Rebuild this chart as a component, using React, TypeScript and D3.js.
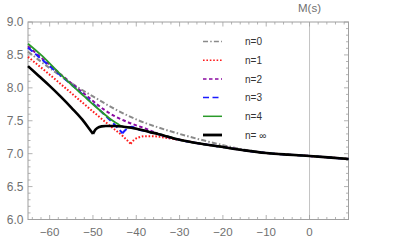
import { useEffect, useRef } from 'react'
import * as d3 from 'd3'

// tick labels
const xTicks = [-60, -50, -40, -30, -20, -10, 0]
const yTicks = [6.0, 6.5, 7.0, 7.5, 8.0, 8.5, 9.0]

// n = infinity (black, drawn on top)
const infX = [-65, -62.5, -60, -57.5, -55, -52.5, -51, -50, -49.5, -49, -48, -47, -45, -43, -40, -37, -35, -30, -25, -20, -15, -10, -5, 0, 5, 9]
const infY = [8.33, 8.18, 8.03, 7.87, 7.70, 7.52, 7.39, 7.30, 7.36, 7.39, 7.415, 7.42, 7.42, 7.41, 7.38, 7.33, 7.30, 7.21, 7.15, 7.10, 7.05, 7.01, 6.985, 6.965, 6.94, 6.92]

// the finite n curves, up to where they fall onto the black one
const n0X = [-65, -60, -55, -50, -45, -40, -35, -30, -25, -20, -15]
const n0Y = [8.55, 8.30, 8.07, 7.87, 7.68, 7.52, 7.40, 7.30, 7.21, 7.13, 7.06]

const n1X = [-65, -60, -55, -50, -46, -43, -41.3, -40.5, -39.5, -38, -36, -34, -32, -30]
const n1Y = [8.47, 8.20, 7.92, 7.64, 7.42, 7.26, 7.15, 7.21, 7.245, 7.265, 7.265, 7.25, 7.23, 7.21]

const n2X = [-65, -60, -55, -52, -50, -47, -45, -42, -40, -38, -36]
const n2Y = [8.63, 8.35, 8.07, 7.91, 7.80, 7.65, 7.57, 7.48, 7.43, 7.385, 7.33]

const n3X = [-65, -60, -55, -50, -47, -45, -44, -43.2, -42.5, -42, -41]
const n3Y = [8.61, 8.33, 8.05, 7.76, 7.57, 7.44, 7.37, 7.31, 7.36, 7.385, 7.41]

const n4X = [-65, -62, -58, -55, -52, -50, -47, -45, -44, -43.5]
const n4Y = [8.67, 8.50, 8.24, 8.05, 7.87, 7.75, 7.58, 7.48, 7.44, 7.42]

const labels = ['n=0', 'n=1', 'n=2', 'n=3', 'n=4', 'n= \u221e']

export default function App() {
  const canvas = useRef<HTMLDivElement>(null)

  useEffect(() => {
    showCanvas()
  }, [])

  const showCanvas = () => {
    const width = 395
    const height = 247
    const margin = { top: 22, bottom: 27.5, left: 28, right: 46.5 }
    const font = '"Liberation Sans", Arial, sans-serif'
    const axisGrey = '#a0a0a0'
    const labelGrey = '#707070'

    d3.select(canvas.current).selectAll('*').remove()
    const svg = d3.select(canvas.current)
      .append('svg')
      .attr('width', width)
      .attr('height', height)
      .style('display', 'block')
      .style('background', 'white')

    const x = d3.scaleLinear().domain([-65, 9]).range([margin.left, width - margin.right])
    const y = d3.scaleLinear().domain([6, 9]).range([height - margin.bottom, margin.top])
    const [x0, x1] = x.range()
    const [y0, y1] = y.range()

    // zero line
    svg.append('line')
      .attr('x1', x(0)).attr('x2', x(0))
      .attr('y1', y1).attr('y2', y0)
      .attr('stroke', '#c4c4c4').attr('stroke-width', 1)

    // frame
    svg.append('rect')
      .attr('x', x0).attr('y', y1)
      .attr('width', x1 - x0).attr('height', y0 - y1)
      .attr('fill', 'none').attr('stroke', axisGrey).attr('stroke-width', 1)

    // ticks on all four sides, pointing inward
    const ticks = svg.append('g').attr('stroke', axisGrey).attr('stroke-width', 0.8)
    d3.range(-64, 9.01, 2).forEach(v => {
      const major = Math.abs(v % 10) < 1e-6
      const len = major ? 4.5 : 2.5
      ticks.append('line').attr('x1', x(v)).attr('x2', x(v)).attr('y1', y0).attr('y2', y0 - len)
      ticks.append('line').attr('x1', x(v)).attr('x2', x(v)).attr('y1', y1).attr('y2', y1 + len)
    })
    d3.range(60, 90.5, 1).forEach(k => {
      const v = k / 10
      const major = k % 5 === 0
      const len = major ? 4.5 : 2.5
      ticks.append('line').attr('x1', x0).attr('x2', x0 + len).attr('y1', y(v)).attr('y2', y(v))
      ticks.append('line').attr('x1', x1).attr('x2', x1 - len).attr('y1', y(v)).attr('y2', y(v))
    })

    // tick labels
    svg.append('g').selectAll('text')
      .data(xTicks)
      .join('text')
      .attr('x', d => x(d))
      .attr('y', y0 + 16)
      .attr('text-anchor', 'middle')
      .attr('font-family', font).attr('font-size', 11.5).attr('fill', labelGrey)
      .text(d => d < 0 ? '\u2212' + Math.abs(d) : String(d))

    svg.append('g').selectAll('text')
      .data(yTicks)
      .join('text')
      .attr('x', x0 - 4.5)
      .attr('y', d => y(d) + 4)
      .attr('text-anchor', 'end')
      .attr('font-family', font).attr('font-size', 12).attr('fill', labelGrey)
      .text(d => d.toFixed(1))

    svg.append('text')
      .attr('x', x(0)).attr('y', 12)
      .attr('text-anchor', 'middle')
      .attr('font-family', font).attr('font-size', 11.5).attr('fill', labelGrey)
      .text('M(s)')

    // colored curves continue along the black one after they meet it
    const withTail = (xs: number[], ys: number[]) => {
      const pts = xs.map((v, i) => [v, ys[i]])
      const last = xs[xs.length - 1]
      infX.forEach((v, i) => { if (v > last) pts.push([v, infY[i]]) })
      return pts
    }

    // split at cusps (local minima) so the corner stays sharp
    const line = d3.line().x(d => x(d[0])).y(d => y(d[1])).curve(d3.curveMonotoneX)
    const cuspPath = (pts: number[][]) => {
      const parts: number[][][] = [[pts[0]]]
      for (let i = 1; i < pts.length; i++) {
        parts[parts.length - 1].push(pts[i])
        if (i < pts.length - 1 && pts[i - 1][1] > pts[i][1] && pts[i + 1][1] > pts[i][1]) {
          parts.push([pts[i]])
        }
      }
      return parts.map(p => line(p as [number, number][])).join('')
    }

    const series = [
      { pts: withTail(n0X, n0Y), color: '#8a8a8a', width: 2, dash: '5,2.2,1.5,2.2' },
      { pts: withTail(n1X, n1Y), color: '#ff1a1a', width: 2, dash: '1.6,1.8' },
      { pts: withTail(n2X, n2Y), color: '#8a0aa0', width: 2, dash: '3.5,2.5' },
      { pts: withTail(n3X, n3Y), color: '#1a1aff', width: 2, dash: '6,3.5' },
      { pts: withTail(n4X, n4Y), color: '#2a9a2a', width: 1.8, dash: null },
      { pts: infX.map((v, i) => [v, infY[i]]), color: '#000000', width: 2.6, dash: null }
    ]

    const plot = svg.append('g')
    series.forEach(s => {
      plot.append('path')
        .attr('d', cuspPath(s.pts))
        .attr('fill', 'none')
        .attr('stroke', s.color)
        .attr('stroke-width', s.width)
        .attr('stroke-dasharray', s.dash)
        .attr('stroke-linejoin', 'round')
    })

    // legend
    const legend = svg.append('g')
    series.forEach((s, i) => {
      const ly = 41.5 + i * 18.7
      legend.append('line')
        .attr('x1', 203).attr('x2', 222)
        .attr('y1', ly).attr('y2', ly)
        .attr('stroke', s.color)
        .attr('stroke-width', i === 5 ? 2.8 : 1.5)
        .attr('stroke-dasharray', s.dash)
      legend.append('text')
        .attr('x', 245).attr('y', ly + 3.8)
        .attr('font-family', font).attr('font-size', 10).attr('fill', '#333')
        .text(labels[i])
    })
  }

  return (
    <div style={{ position: 'absolute', left: 0, top: 0 }}>
      <div className="canvas" ref={canvas}></div>
    </div>
  )
}
